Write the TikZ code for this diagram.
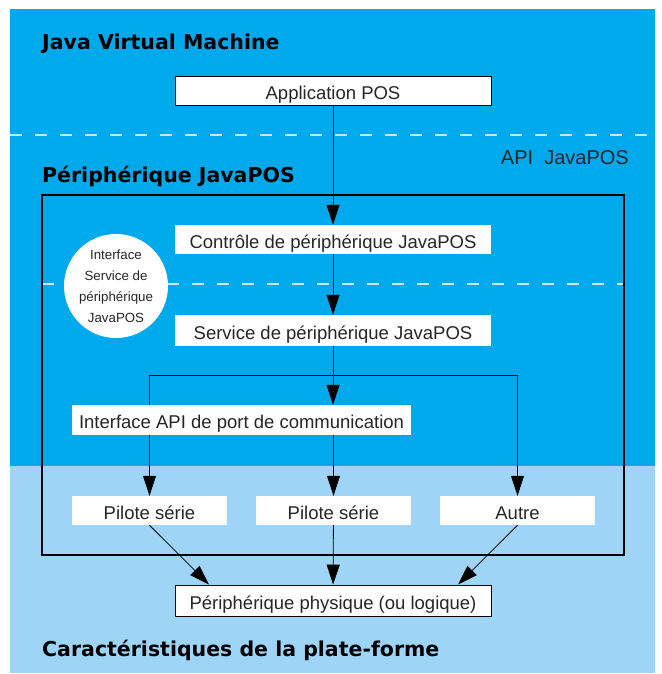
\documentclass[tikz,border=0pt]{standalone}
\usepackage{fontspec}
\setmainfont{Liberation Sans}
\newfontfamily\titlefont{DejaVu Sans}
\usepackage{xcolor}
\definecolor{ColJvm}{RGB}{0,169,236}
\definecolor{ColPlat}{RGB}{158,212,245}
\definecolor{ColDash}{RGB}{200,232,250}
\usepackage{tikz}
\usetikzlibrary{arrows.meta}
\usetikzlibrary{backgrounds}
\tikzstyle{Box}=[fill=white,inner sep=0pt,minimum height=29pt,
text height=17.5pt,text depth=0pt,text=black!85,
font=\fontsize{18.5}{22}\selectfont]
\tikzstyle{BoxFrame}=[Box,draw=black,line width=0.8pt]
\tikzstyle{Title}=[anchor=base west,inner sep=0pt,
font=\titlefont\bfseries\fontsize{20.5}{24}\selectfont]
\tikzstyle{Edge}=[draw=black,line width=0.8pt]
\tikzstyle{Arrow}=[Edge,-{Triangle[length=20pt,width=13pt]}]
\tikzstyle{DashLine}=[draw=ColDash,line width=1.5pt,
dash pattern=on 12pt off 13pt]

\begin{document}
\begin{tikzpicture}[x=1pt,y=-1pt]
        \useasboundingbox(0,0)rectangle(661,674);
        \node[Title](jvm)at(42,50){Java Virtual Machine};
        \node[Title](dev)at(42,182){Périphérique JavaPOS};
        \node[Title](plat)at(42,656){Caractéristiques de la plate-forme};
        \node[anchor=base east,inner sep=0pt,text=black!85,
            font=\fontsize{20}{24}\selectfont](api)at(629,164)
            {API\ \ JavaPOS};
        \node[BoxFrame,minimum width=316pt](app)at(333,90.5)
            {Application POS};
        \node[Box,minimum width=316pt](ctl)at(333,239.5)
            {Contrôle de périphérique JavaPOS};
        \node[Box,minimum width=316pt,minimum height=31pt](svc)
            at(333,330.5){Service de périphérique JavaPOS};
        \node[Box,minimum width=339pt,minimum height=30pt](com)
            at(241.5,420){Interface API de port de communication};
        \node[Box,minimum width=155pt](p1)at(149.5,510.5){Pilote série};
        \node[Box,minimum width=155pt](p2)at(333.5,510.5){Pilote série};
        \node[Box,minimum width=155pt](oth)at(517.5,510.5){Autre};
        \node[BoxFrame,minimum width=316pt,minimum height=31pt](phy)
            at(333,600.5){Périphérique physique (ou logique)};
        \node[circle,fill=white,minimum size=104pt,inner sep=0pt,
            align=center,text=black!85,font=\fontsize{13.3}{21}\selectfont]
            (svi)at(116,286){Interface\\Service de\\périphérique\\JavaPOS};
        \begin{scope}[on background layer]
        \fill[ColJvm](10,9)rectangle(655,466);
        \fill[ColPlat](10,466)rectangle(655,673);
        \draw[DashLine](10,135)--(655,135);
        \draw[DashLine](42,284)--(624,284);
        \draw[line width=2pt](42,195)rectangle(624,555);
        \coordinate(jl)at(149.5,375);
        \coordinate(jr)at(517.5,375);
        \draw[Arrow](app)--(ctl);
        \draw[Arrow](ctl)--(svc);
        \draw[Arrow](svc)--(svc|-com.north);
        \draw[Edge](jl)--(jr);
        \draw[Arrow](jl)--(p1);
        \draw[Arrow](jr)--(oth);
        \draw[Arrow](p2|-com.south)--(p2);
        \draw[Arrow](p1.south)--([xshift=-124pt]phy.north);
        \draw[Arrow](p2)--(phy);
        \draw[Arrow](oth.south)--([xshift=125pt]phy.north);
        \end{scope}
    \end{tikzpicture}
\end{document}
